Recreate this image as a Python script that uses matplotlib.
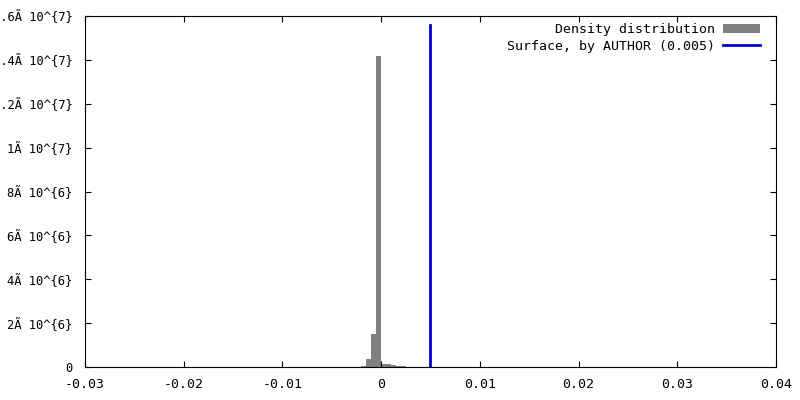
import matplotlib
matplotlib.use('Agg')
import matplotlib.pyplot as plt
import numpy as np

# histogram bins (left edges) and heights
bin_left = [-0.002, -0.0015, -0.001, -0.0005, 0.0, 0.0005, 0.001, 0.0015, 0.002]
bin_width = 0.0005
counts = [5e4, 3.6e5, 1.5e6, 1.418e7, 1.5e5, 1.5e5, 1.0e5, 6e4, 6e4]
surface = 0.005

xticks = [-0.03, -0.02, -0.01, 0, 0.01, 0.02, 0.03, 0.04]
xticklabels = ['-0.03', '-0.02', '-0.01', '0', '0.01', '0.02', '0.03', '0.04']
yticks = [0, 2e6, 4e6, 6e6, 8e6, 1e7, 1.2e7, 1.4e7, 1.6e7]
yticklabels = ['0', '2Ã 10^{6}', '4Ã 10^{6}', '6Ã 10^{6}', '8Ã 10^{6}',
               '1Ã 10^{7}', '1.2Ã 10^{7}', '1.4Ã 10^{7}', '1.6Ã 10^{7}']

plt.rcParams['font.family'] = ['DejaVu Sans Mono']
plt.rcParams['font.size'] = 9.5

fig = plt.figure(figsize=(8, 4), dpi=100)
ax = fig.add_axes([0.10625, 0.0825, 0.86375, 0.8775])

bars = ax.bar(bin_left, counts, width=bin_width, align='edge', color='#808080',
              linewidth=0, label='Density distribution')
line, = ax.plot([surface, surface], [0, 1.56e7], color='#0000cc', linewidth=2,
                label='Surface, by AUTHOR (0.005)')

ax.set_xlim(-0.03, 0.04)
ax.set_ylim(0, 1.6e7)
ax.set_xticks(xticks)
ax.set_xticklabels(xticklabels)
ax.set_yticks(yticks)
ax.set_yticklabels(yticklabels, fontsize=8.7)
ax.tick_params(direction='in', length=4, width=0.8, top=True, right=True)
ax.tick_params(axis='y', pad=9)
ax.tick_params(axis='x', pad=8)
for s in ax.spines.values():
    s.set_linewidth(0.8)

ax.legend([bars, line], ['Density distribution', 'Surface, by AUTHOR (0.005)'],
          loc='upper right', bbox_to_anchor=(1 - 7 / 691, 1 + 2 / 351),
          frameon=False, markerfirst=False,
          handlelength=2.8, handletextpad=0.6, labelspacing=0.25,
          borderaxespad=0.3)

fig.savefig('out.png', dpi=100)
